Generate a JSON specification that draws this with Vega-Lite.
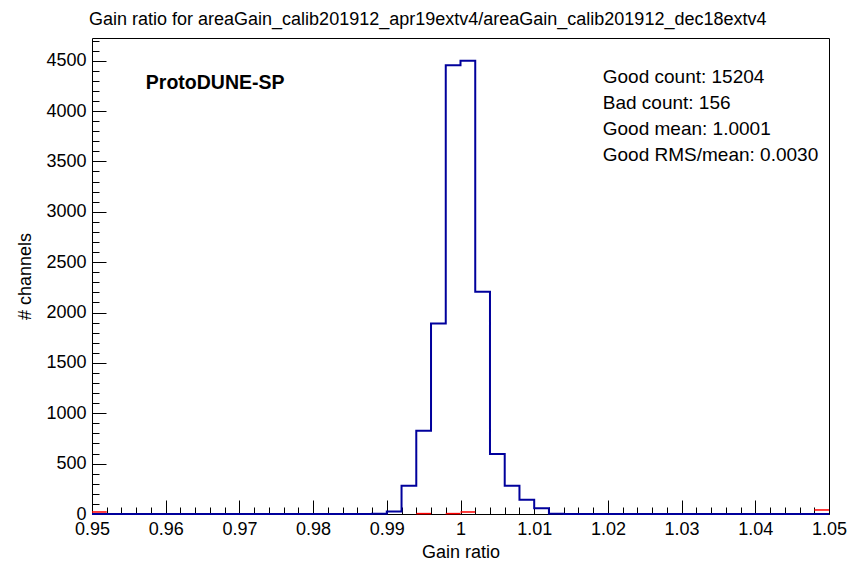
{
  "$schema": "https://vega.github.io/schema/vega-lite/v6.json",
  "width": 737,
  "height": 476,
  "autosize": "none",
  "padding": {"left": 92, "top": 38, "right": 33, "bottom": 50},
  "background": "white",
  "config": {
    "view": {"stroke": "black", "strokeWidth": 1},
    "font": "Liberation Sans",
    "axis": {"domain": false, "grid": false, "labelColor": "black", "titleColor": "black", "tickColor": "black", "labelFont": "Liberation Sans", "titleFont": "Liberation Sans", "labelFontSize": 18, "titleFontSize": 18, "titleFontWeight": "normal", "labelOverlap": false, "labelBound": false, "labelFlush": false}
  },
  "title": {"text": "Gain ratio for areaGain_calib201912_apr19extv4/areaGain_calib201912_dec18extv4", "anchor": "start", "frame": "group", "fontSize": 18, "fontWeight": "normal", "font": "Liberation Sans", "color": "black", "offset": -5, "dx": -3, "baseline": "alphabetic"},
  "datasets": {
    "good": [
      {"lo": 0.950, "count": 0}, {"lo": 0.952, "count": 0}, {"lo": 0.954, "count": 0}, {"lo": 0.956, "count": 0}, {"lo": 0.958, "count": 0},
      {"lo": 0.960, "count": 0}, {"lo": 0.962, "count": 0}, {"lo": 0.964, "count": 0}, {"lo": 0.966, "count": 0}, {"lo": 0.968, "count": 0},
      {"lo": 0.970, "count": 0}, {"lo": 0.972, "count": 0}, {"lo": 0.974, "count": 0}, {"lo": 0.976, "count": 0}, {"lo": 0.978, "count": 0},
      {"lo": 0.980, "count": 0}, {"lo": 0.982, "count": 0}, {"lo": 0.984, "count": 0}, {"lo": 0.986, "count": 0}, {"lo": 0.988, "count": 2},
      {"lo": 0.990, "count": 26}, {"lo": 0.992, "count": 281}, {"lo": 0.994, "count": 827}, {"lo": 0.996, "count": 1890}, {"lo": 0.998, "count": 4455},
      {"lo": 1.000, "count": 4500}, {"lo": 1.002, "count": 2205}, {"lo": 1.004, "count": 595}, {"lo": 1.006, "count": 281}, {"lo": 1.008, "count": 142},
      {"lo": 1.010, "count": 56}, {"lo": 1.012, "count": 2}, {"lo": 1.014, "count": 0}, {"lo": 1.016, "count": 0}, {"lo": 1.018, "count": 0},
      {"lo": 1.020, "count": 0}, {"lo": 1.022, "count": 0}, {"lo": 1.024, "count": 0}, {"lo": 1.026, "count": 0}, {"lo": 1.028, "count": 0},
      {"lo": 1.030, "count": 0}, {"lo": 1.032, "count": 0}, {"lo": 1.034, "count": 0}, {"lo": 1.036, "count": 0}, {"lo": 1.038, "count": 0},
      {"lo": 1.040, "count": 0}, {"lo": 1.042, "count": 0}, {"lo": 1.044, "count": 0}, {"lo": 1.046, "count": 0}, {"lo": 1.048, "count": 0},
      {"lo": 1.050, "count": 0}
    ],
    "bad": [
      {"lo": 0.950, "hi": 0.952, "count": 20},
      {"lo": 0.994, "hi": 0.996, "count": 4},
      {"lo": 0.998, "hi": 1.000, "count": 4},
      {"lo": 1.000, "hi": 1.002, "count": 20},
      {"lo": 1.048, "hi": 1.050, "count": 40}
    ],
    "label": [{"text": "ProtoDUNE-SP", "x": 0.9573, "y": 4219}],
    "stats": [
      {"text": "Good count: 15204", "x": 1.0193, "y": 4279},
      {"text": "Bad count: 156", "x": 1.0193, "y": 4021},
      {"text": "Good mean: 1.0001", "x": 1.0193, "y": 3763},
      {"text": "Good RMS/mean: 0.0030", "x": 1.0193, "y": 3500}
    ]
  },
  "layer": [
    {
      "data": {"name": "good"},
      "mark": {"type": "line", "interpolate": "step-after", "color": "#00009c", "strokeWidth": 2},
      "encoding": {
        "x": {"field": "lo", "type": "quantitative", "scale": {"domain": [0.95, 1.05], "nice": false, "zero": false},
          "axis": {"orient": "bottom", "title": "Gain ratio", "ticks": false, "labelPadding": 6, "titlePadding": 5, "values": [0.95, 0.96, 0.97, 0.98, 0.99, 1.0, 1.01, 1.02, 1.03, 1.04, 1.05], "format": ".2~f"}},
        "y": {"field": "count", "type": "quantitative", "scale": {"domain": [0, 4725], "nice": false},
          "axis": {"orient": "left", "title": "# channels", "ticks": false, "labelPadding": 6, "titlePadding": 11, "format": "d", "values": [0, 500, 1000, 1500, 2000, 2500, 3000, 3500, 4000, 4500]}}
      }
    },
    {
      "data": {"name": "bad"},
      "mark": {"type": "rule", "color": "#ff0000", "strokeWidth": 1.5},
      "encoding": {
        "x": {"field": "lo", "type": "quantitative", "axis": {"orient": "bottom", "title": null, "labels": false, "tickSize": -14, "tickWidth": 1, "values": [0.95, 0.96, 0.97, 0.98, 0.99, 1.0, 1.01, 1.02, 1.03, 1.04, 1.05]}},
        "x2": {"field": "hi"},
        "y": {"field": "count", "type": "quantitative", "axis": {"orient": "left", "title": null, "labels": false, "tickSize": -14, "tickWidth": 1, "values": [0, 500, 1000, 1500, 2000, 2500, 3000, 3500, 4000, 4500]}}
      }
    },
    {
      "data": {"name": "label"},
      "mark": {"type": "text", "font": "Liberation Sans", "fontWeight": "bold", "fontSize": 19.5, "align": "left", "baseline": "alphabetic", "color": "black"},
      "encoding": {
        "x": {"field": "x", "type": "quantitative", "axis": {"orient": "bottom", "title": null, "labels": false, "tickSize": -7, "tickWidth": 1, "values": [0.952, 0.954, 0.956, 0.958, 0.962, 0.964, 0.966, 0.968, 0.972, 0.974, 0.976, 0.978, 0.982, 0.984, 0.986, 0.988, 0.992, 0.994, 0.996, 0.998, 1.002, 1.004, 1.006, 1.008, 1.012, 1.014, 1.016, 1.018, 1.022, 1.024, 1.026, 1.028, 1.032, 1.034, 1.036, 1.038, 1.042, 1.044, 1.046, 1.048]}},
        "y": {"field": "y", "type": "quantitative", "axis": {"orient": "left", "title": null, "labels": false, "tickSize": -7, "tickWidth": 1, "values": [100, 200, 300, 400, 600, 700, 800, 900, 1100, 1200, 1300, 1400, 1600, 1700, 1800, 1900, 2100, 2200, 2300, 2400, 2600, 2700, 2800, 2900, 3100, 3200, 3300, 3400, 3600, 3700, 3800, 3900, 4100, 4200, 4300, 4400, 4600, 4700]}},
        "text": {"field": "text"}
      }
    },
    {
      "data": {"name": "stats"},
      "mark": {"type": "text", "font": "Liberation Sans", "fontSize": 19, "align": "left", "baseline": "alphabetic", "color": "black"},
      "encoding": {
        "x": {"field": "x", "type": "quantitative", "axis": null},
        "y": {"field": "y", "type": "quantitative", "axis": null},
        "text": {"field": "text"}
      }
    }
  ],
  "resolve": {"axis": {"x": "independent", "y": "independent"}}
}
